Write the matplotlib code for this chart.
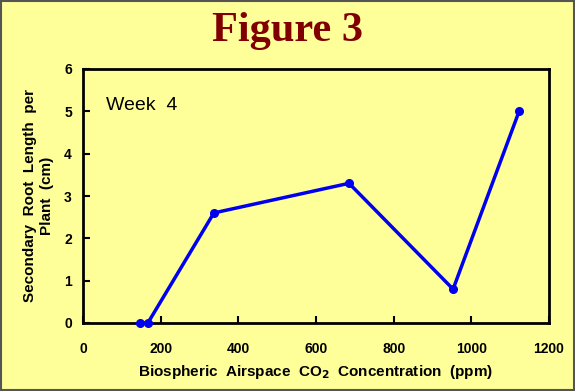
import matplotlib
matplotlib.use("Agg")
import matplotlib.pyplot as plt
from matplotlib.patches import Rectangle

co2_ppm = [147, 167, 337, 685, 953, 1123]
root_length_cm = [0.0, 0.0, 2.6, 3.3, 0.8, 5.0]
x_ticks = [0, 200, 400, 600, 800, 1000, 1200]
y_ticks = [0, 1, 2, 3, 4, 5, 6]

bg = "#FFFF99"
fig = plt.figure(figsize=(5.75, 3.91), dpi=100, facecolor=bg)
fig.patches.append(Rectangle((0.002, 0.003), 0.996, 0.994, transform=fig.transFigure,
                             fill=False, edgecolor="#555555", linewidth=1.5))

ax = fig.add_axes([83/575, 1-323/391, (549-83)/575, (323-69)/391])
ax.set_facecolor(bg)
ax.plot(co2_ppm, root_length_cm, color="#0000EE", linewidth=2.5, marker="o",
        markersize=5.5, clip_on=False, zorder=3)
ax.set_xlim(0, 1200)
ax.set_ylim(0, 6)
ax.set_xticks(x_ticks)
ax.set_yticks(y_ticks)
for s in ax.spines.values():
    s.set_linewidth(2)
    s.set_color("black")
ax.tick_params(direction="in", length=5, width=1.5, labelsize=10, pad=8)
for lab in ax.get_xticklabels() + ax.get_yticklabels():
    lab.set_fontfamily("Liberation Sans")
    lab.set_fontweight("bold")
ax.tick_params(axis="x", pad=14)

ax.set_xlabel("Biospheric  Airspace  CO$_\\mathbf{2}$  Concentration  (ppm)",
              fontsize=11, fontweight="bold", family="Liberation Sans", labelpad=5)
ax.set_ylabel("Secondary  Root  Length  per\nPlant  (cm)", fontsize=11,
              fontweight="bold", family="Liberation Sans", labelpad=7, linespacing=1.3)
ax.text(0.05, 0.855, "Week  4", transform=ax.transAxes, fontsize=14,
        family="Liberation Sans", va="center", ha="left")

fig.text(0.5, 0.92, "Figure 3", ha="center", va="center", fontsize=30.5,
         fontweight="bold", family="Liberation Serif", color="#800000")

fig.savefig("out.png", dpi=100, facecolor=bg)
